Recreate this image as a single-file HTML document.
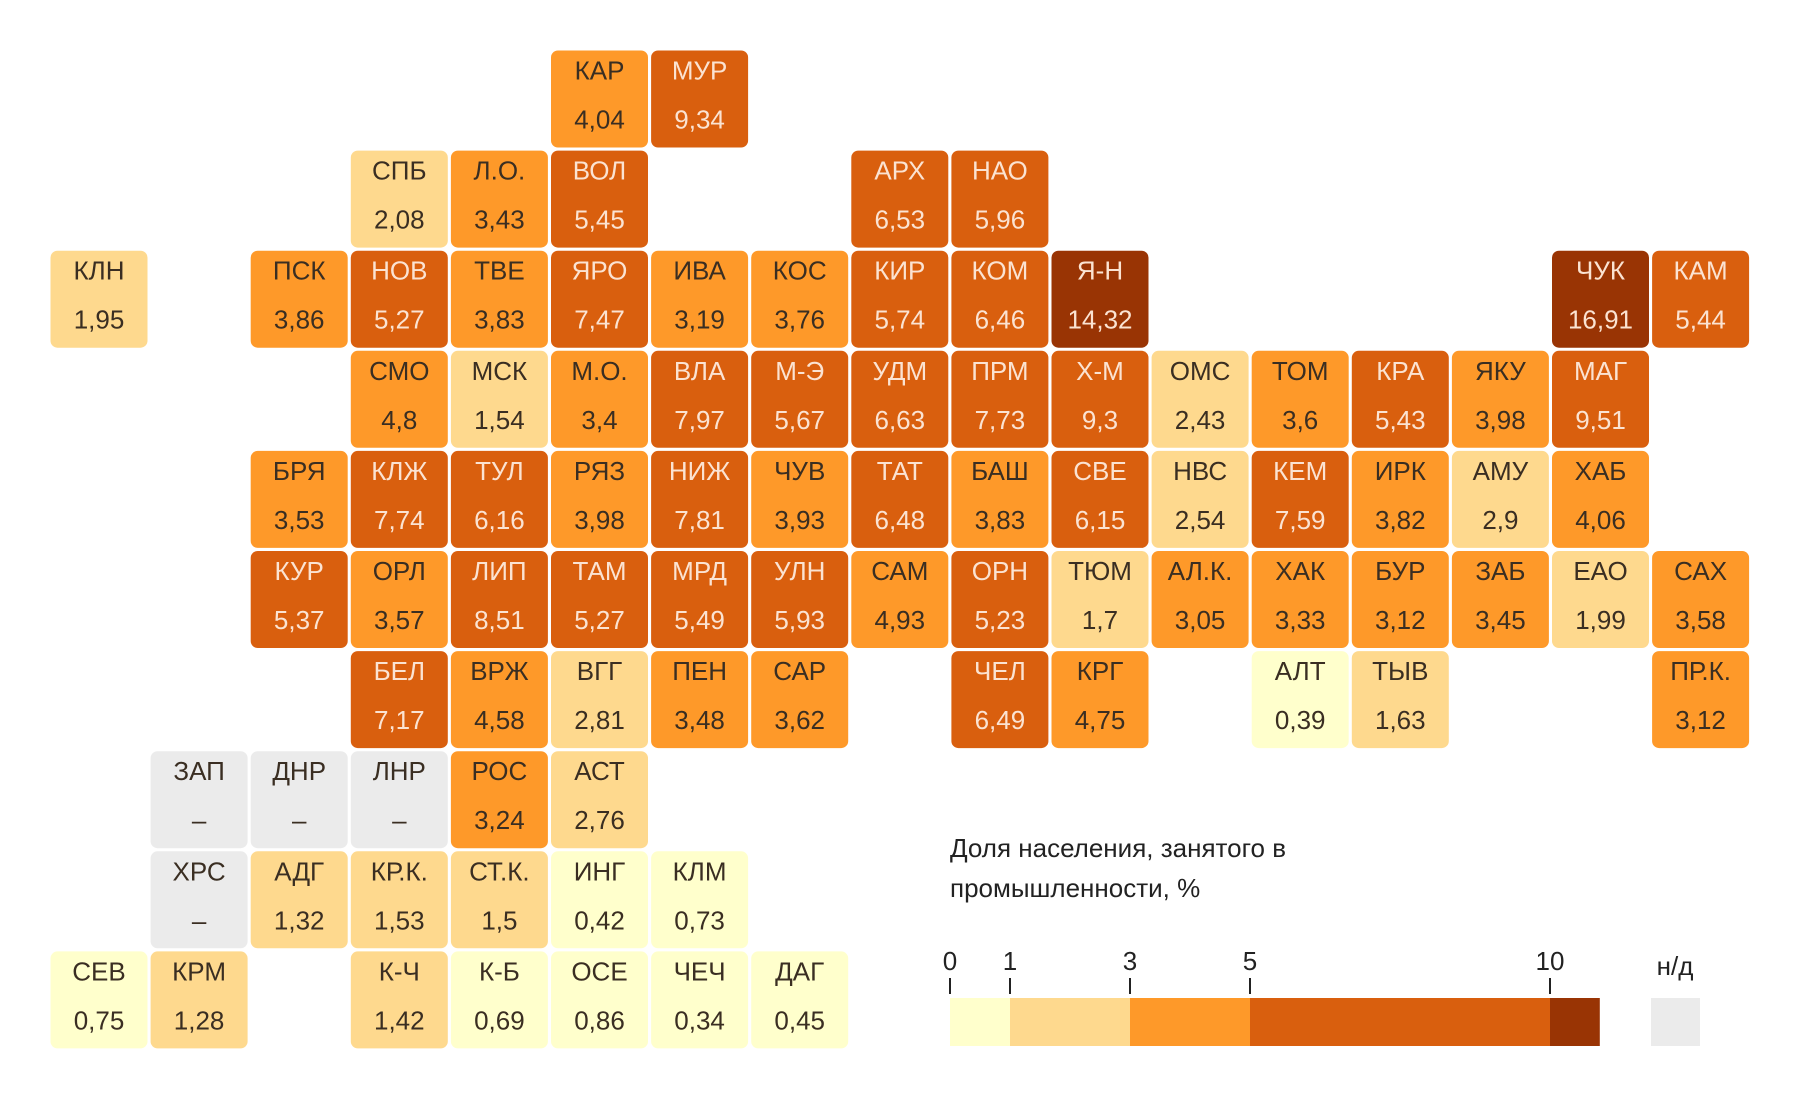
<!DOCTYPE html>
<html><head><meta charset="utf-8"><style>
body{margin:0;background:#fff;width:1800px;height:1100px;overflow:hidden}
svg text{font-family:"Liberation Sans","Noto Sans CJK SC",sans-serif}
</style></head><body>
<svg id="c" width="1800" height="1100"></svg>
<script>
const codes=["КАР","МУР","СПБ","Л.О.","ВОЛ","АРХ","НАО","КЛН","ПСК","НОВ","ТВЕ","ЯРО","ИВА","КОС","КИР","КОМ","Я-Н","ЧУК","КАМ","СМО","МСК","М.О.","ВЛА","М-Э","УДМ","ПРМ","Х-М","ОМС","ТОМ","КРА","ЯКУ","МАГ","БРЯ","КЛЖ","ТУЛ","РЯЗ","НИЖ","ЧУВ","ТАТ","БАШ","СВЕ","НВС","КЕМ","ИРК","АМУ","ХАБ","КУР","ОРЛ","ЛИП","ТАМ","МРД","УЛН","САМ","ОРН","ТЮМ","АЛ.К.","ХАК","БУР","ЗАБ","ЕАО","САХ","БЕЛ","ВРЖ","ВГГ","ПЕН","САР","ЧЕЛ","КРГ","АЛТ","ТЫВ","ПР.К.","ЗАП","ДНР","ЛНР","РОС","АСТ","ХРС","АДГ","КР.К.","СТ.К.","ИНГ","КЛМ","СЕВ","КРМ","К-Ч","К-Б","ОСЕ","ЧЕЧ","ДАГ"];
const cols=[5,6,3,4,5,8,9,0,2,3,4,5,6,7,8,9,10,15,16,3,4,5,6,7,8,9,10,11,12,13,14,15,2,3,4,5,6,7,8,9,10,11,12,13,14,15,2,3,4,5,6,7,8,9,10,11,12,13,14,15,16,3,4,5,6,7,9,10,12,13,16,1,2,3,4,5,1,2,3,4,5,6,0,1,3,4,5,6,7];
const rows=[0,0,1,1,1,1,1,2,2,2,2,2,2,2,2,2,2,2,2,3,3,3,3,3,3,3,3,3,3,3,3,3,4,4,4,4,4,4,4,4,4,4,4,4,4,4,5,5,5,5,5,5,5,5,5,5,5,5,5,5,5,6,6,6,6,6,6,6,6,6,6,7,7,7,7,7,8,8,8,8,8,8,9,9,9,9,9,9,9];
const values=[4.04,9.34,2.08,3.43,5.45,6.53,5.96,1.95,3.86,5.27,3.83,7.47,3.19,3.76,5.74,6.46,14.32,16.91,5.44,4.8,1.54,3.4,7.97,5.67,6.63,7.73,9.3,2.43,3.6,5.43,3.98,9.51,3.53,7.74,6.16,3.98,7.81,3.93,6.48,3.83,6.15,2.54,7.59,3.82,2.9,4.06,5.37,3.57,8.51,5.27,5.49,5.93,4.93,5.23,1.7,3.05,3.33,3.12,3.45,1.99,3.58,7.17,4.58,2.81,3.48,3.62,6.49,4.75,0.39,1.63,3.12,null,null,null,3.24,2.76,null,1.32,1.53,1.5,0.42,0.73,0.75,1.28,1.42,0.69,0.86,0.34,0.45];
const thresholds=[1,3,5,10];
const tickLabels=[0,1,3,5,10];
const palette=["#ffffcc","#fed98e","#fe9929","#d95f0e","#993404"];
const NS="http://www.w3.org/2000/svg";
const svg=document.getElementById('c');
function mk(t,a,p){const e=document.createElementNS(NS,t);for(const k in a)e.setAttribute(k,a[k]);(p||svg).appendChild(e);return e;}
function colorOf(v){if(v==null)return"#ebebeb";let i=0;while(i<thresholds.length&&v>=thresholds[i])i++;return palette[i];}
const X0=50.5,Y0=50.5,P=100.1,S=97;
const xPos=c=>X0+c*P, yPos=r=>Y0+r*P;
codes.forEach((code,i)=>{
  const v=values[i];
  const g=mk('g',{});
  
  
  const x=xPos(cols[i]),y=yPos(rows[i]);
  mk('rect',{x:x,y:y,width:S,height:S,rx:7,fill:colorOf(v)},g);
  const dark=v!=null&&v>=5;
  const tc=dark?"#fbe3d2":"#3a2e22";
  const t1=mk('text',{x:x+S/2,y:y+29,'text-anchor':'middle','font-size':26,fill:tc},g);
  t1.textContent=code;
  const t2=mk('text',{x:x+S/2,y:y+78,'text-anchor':'middle','font-size':26,fill:tc},g);
  t2.textContent=v==null?"–":String(v).replace('.',',');
});
const lg=mk('g',{});


const tt=mk('text',{x:950,y:857,'font-size':26,fill:"#222"},lg);tt.textContent="Доля населения, занятого в";
const tt2=mk('text',{x:950,y:897,'font-size':26,fill:"#222"},lg);tt2.textContent="промышленности, %";
const LX=950,U=60.0,LY=998,LH=48,LMAX=10.83;
const lx=v=>LX+v*U;
const edges=[0].concat(thresholds,[LMAX]);
for(let i=0;i<palette.length;i++){
  const r=mk('rect',{x:lx(edges[i]),y:LY,width:lx(edges[i+1])-lx(edges[i]),height:LH,fill:palette[i]},lg);
  
  
}
tickLabels.forEach(t=>{
  mk('line',{x1:lx(t),x2:lx(t),y1:978,y2:994,stroke:"#222","stroke-width":2},lg);
  const e=mk('text',{x:lx(t),y:970,'text-anchor':'middle','font-size':26,fill:"#222"},lg);e.textContent=t;
});
const na=mk('rect',{x:1651,y:LY,width:49,height:LH,fill:"#ebebeb"},lg);


const nt=mk('text',{x:1675,y:975,'text-anchor':'middle','font-size':26,fill:"#222"},lg);nt.textContent="н/д";
</script>
</body></html>
